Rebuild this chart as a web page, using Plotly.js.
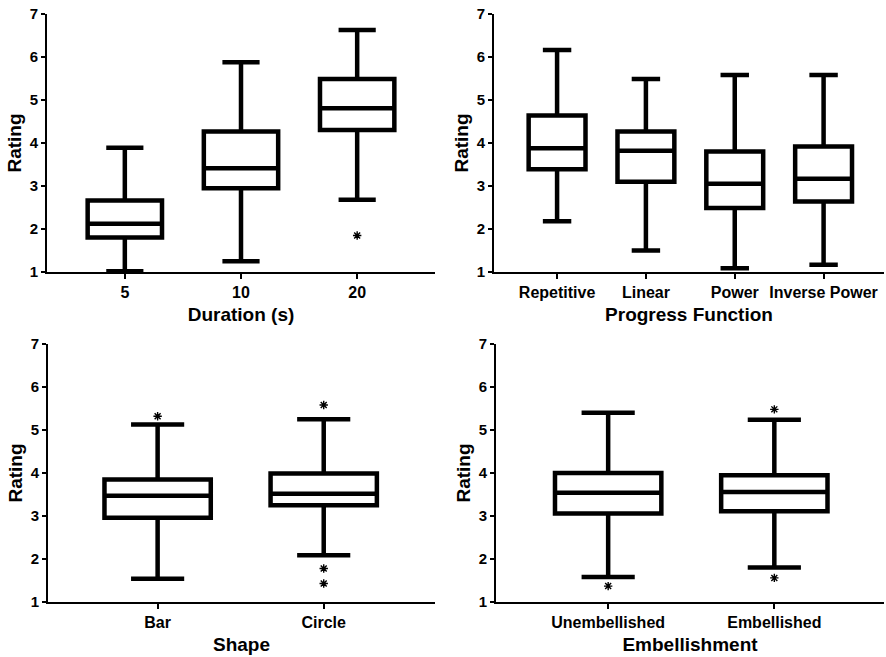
<!DOCTYPE html>
<html>
<head>
<meta charset="utf-8">
<script src="https://cdn.plot.ly/plotly-3.0.1.min.js"></script>
<style>html,body{margin:0;padding:0;background:#fff}#chart{width:886px;height:657px}</style>
</head>
<body>
<div id="chart"></div>
<script>
// Panel 1: Duration
const durCats = ["5", "10", "20"];
const durLow = [1.02, 1.25, 2.68];
const durQ1 = [1.80, 2.95, 4.30];
const durMed = [2.12, 3.41, 4.81];
const durQ3 = [2.66, 4.27, 5.49];
const durHigh = [3.89, 5.88, 6.63];
const durOutX = ["20"];
const durOutY = [1.85];

// Panel 2: Progress Function
const pfCats = ["Repetitive", "Linear", "Power", "Inverse Power"];
const pfLow = [2.18, 1.50, 1.09, 1.17];
const pfQ1 = [3.39, 3.10, 2.49, 2.64];
const pfMed = [3.88, 3.82, 3.05, 3.17];
const pfQ3 = [4.64, 4.27, 3.80, 3.92];
const pfHigh = [6.16, 5.49, 5.58, 5.58];

// Panel 3: Shape
const shCats = ["Bar", "Circle"];
const shLow = [1.54, 2.09];
const shQ1 = [2.96, 3.25];
const shMed = [3.47, 3.52];
const shQ3 = [3.85, 3.99];
const shHigh = [5.13, 5.25];
const shOutX = ["Bar", "Circle", "Circle", "Circle"];
const shOutY = [5.32, 5.58, 1.78, 1.43];

// Panel 4: Embellishment
const emCats = ["Unembellished", "Embellished"];
const emLow = [1.58, 1.80];
const emQ1 = [3.06, 3.11];
const emMed = [3.54, 3.56];
const emQ3 = [4.00, 3.95];
const emHigh = [5.40, 5.24];
const emOutX = ["Unembellished", "Embellished", "Embellished"];
const emOutY = [1.37, 5.48, 1.56];

const yTickVals = [1, 2, 3, 4, 5, 6, 7];

const FONT = "Liberation Sans, Arial, sans-serif";

function boxTrace(cats, lo, q1, med, q3, hi, xa, ya) {
  return {
    type: "box", x: cats, lowerfence: lo, q1: q1, median: med, q3: q3, upperfence: hi,
    xaxis: xa, yaxis: ya, boxpoints: false, width: 0.64, whiskerwidth: 0.5,
    fillcolor: "rgba(255,255,255,0)", line: {color: "#000", width: 4.5},
    hoverinfo: "skip", showlegend: false
  };
}
function outTrace(xs, ys, xa, ya) {
  return {
    type: "scatter", mode: "markers", x: xs, y: ys, xaxis: xa, yaxis: ya,
    marker: {symbol: "asterisk-open", size: 7, color: "#000", line: {color: "#000", width: 1.4}},
    showlegend: false, hoverinfo: "skip", cliponaxis: false
  };
}

const data = [
  boxTrace(durCats, durLow, durQ1, durMed, durQ3, durHigh, "x", "y"),
  outTrace(durOutX, durOutY, "x", "y"),
  boxTrace(pfCats, pfLow, pfQ1, pfMed, pfQ3, pfHigh, "x2", "y2"),
  boxTrace(shCats, shLow, shQ1, shMed, shQ3, shHigh, "x3", "y3"),
  outTrace(shOutX, shOutY, "x3", "y3"),
  boxTrace(emCats, emLow, emQ1, emMed, emQ3, emHigh, "x4", "y4"),
  outTrace(emOutX, emOutY, "x4", "y4")
];

const b = s => "<b>" + s + "</b>";

function xax(domain, anchor, range, cats, title) {
  return {
    domain: domain, anchor: anchor, type: "category", range: range,
    tickmode: "array", tickvals: cats, ticktext: cats.map(b),
    showline: true, linecolor: "#000", linewidth: 2, mirror: false,
    ticks: "outside", ticklen: 5, tickwidth: 2, tickcolor: "#000",
    showgrid: false, zeroline: false,
    tickfont: {family: FONT, size: 16, color: "#000"},
    title: {text: b(title), font: {family: FONT, size: 19, color: "#000"}, standoff: 7}
  };
}
function yax(domain, anchor) {
  return {
    domain: domain, anchor: anchor, range: [1, 7],
    tickmode: "array", tickvals: yTickVals, ticktext: yTickVals.map(v => b(String(v))),
    showline: true, linecolor: "#000", linewidth: 2, mirror: false,
    ticks: "outside", ticklen: 4, tickwidth: 2, tickcolor: "#000",
    showgrid: false, zeroline: false,
    tickfont: {family: FONT, size: 15, color: "#000"},
    title: {text: b("Rating"), font: {family: FONT, size: 19, color: "#000"}, standoff: 3}
  };
}

const layout = {
  width: 886, height: 657,
  margin: {l: 0, r: 0, t: 0, b: 0},
  paper_bgcolor: "#fff", plot_bgcolor: "#fff",
  showlegend: false,
  xaxis: xax([47/886, 435/886], "y", [-0.67, 2.67], durCats, "Duration (s)"),
  yaxis: yax([1 - 272/657, 1 - 14/657], "x"),
  xaxis2: xax([494/886, 884/886], "y2", [-0.71, 3.68], pfCats, "Progress Function"),
  yaxis2: yax([1 - 272/657, 1 - 14/657], "x2"),
  xaxis3: xax([48/886, 435/886], "y3", [-0.66, 1.67], shCats, "Shape"),
  yaxis3: yax([1 - 602/657, 1 - 344/657], "x3"),
  xaxis4: xax([496/886, 884/886], "y4", [-0.675, 1.66], emCats, "Embellishment"),
  yaxis4: yax([1 - 602/657, 1 - 344/657], "x4")
};

Plotly.newPlot("chart", data, layout, {displayModeBar: false, staticPlot: true});
</script>
</body>
</html>
